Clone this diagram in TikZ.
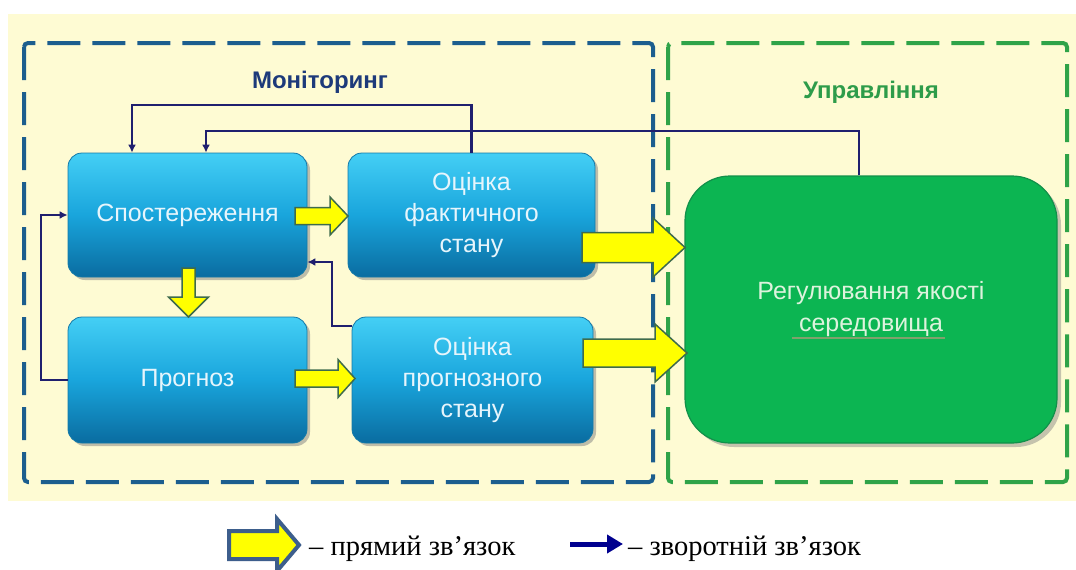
\documentclass[tikz,border=0pt]{standalone}
\usepackage{fontspec}
\setmainfont{Liberation Serif}
\newfontfamily\arialf{Liberation Sans}
\usetikzlibrary{arrows.meta,shadows,calc}
\definecolor{bgyellow}{HTML}{FEFBD3}
\definecolor{monblue}{HTML}{1C5E8E}
\definecolor{mangreen}{HTML}{2FA348}
\definecolor{montext}{HTML}{1D3A7A}
\definecolor{mantext}{HTML}{2E9C4A}
\definecolor{boxtop}{HTML}{44CFF5}
\definecolor{boxmid}{HTML}{19A5DC}
\definecolor{boxbot}{HTML}{0A6CA0}
\definecolor{boxedge}{HTML}{1479A8}
\definecolor{boxtxt}{HTML}{E6F5FC}
\definecolor{regfill}{HTML}{0CB552}
\definecolor{regedge}{HTML}{12904A}
\definecolor{regtxt}{HTML}{DDF3DD}
\definecolor{fbline}{HTML}{1F1F6E}
\definecolor{yarr}{HTML}{FFFF00}
\definecolor{yedge}{HTML}{3E6B4C}
\definecolor{legedge}{HTML}{3D5E8C}
\definecolor{legnavy}{HTML}{00008F}
\definecolor{squig}{HTML}{B09A78}
\tikzset{
  bluebox/.style={rounded corners=14, inner sep=0, draw=boxedge, line width=0.8,
    top color=boxtop, bottom color=boxbot, middle color=boxmid,
    drop shadow={shadow xshift=3pt, shadow yshift=-3pt, opacity=0.5},
    text=boxtxt, align=center, font=\arialf\fontsize{25}{31}\selectfont},
  greenbox/.style={rounded corners=45, inner sep=0, draw=regedge, line width=1.2,
    fill=regfill, drop shadow={shadow xshift=4pt, shadow yshift=-4pt, opacity=0.45},
    text=regtxt, align=center, font=\arialf\fontsize{25}{32}\selectfont},
  dashbox/.style={line width=4, dash pattern=on 33 off 12, rounded corners=4},
  yarrow/.style={fill=yarr, draw=yedge, line width=1.5, line join=miter},
  legarrow/.style={fill=yarr, draw=legedge, line width=4, line join=miter},
  fb/.style={draw=fbline, line width=2.6, -{Latex[length=8,width=8]}},
  legtext/.style={inner sep=0, anchor=base west, font=\fontsize{28.5}{30}\selectfont},
}
% horizontal block arrow: style, tail x, head-base x, tip x, y, shaft half, head half
\newcommand\hblockarrow[7]{%
  \draw[#1] (#2,#5-#6) -- (#3,#5-#6) -- (#3,#5-#7) -- (#4,#5) -- (#3,#5+#7)
    -- (#3,#5+#6) -- (#2,#5+#6) -- cycle;}
% vertical block arrow: style, x, tail y, head-base y, tip y, shaft half, head half
\newcommand\vblockarrow[7]{%
  \draw[#1] (#2-#6,#3) -- (#2-#6,#4) -- (#2-#7,#4) -- (#2,#5) -- (#2+#7,#4)
    -- (#2+#6,#4) -- (#2+#6,#3) -- cycle;}
\begin{document}
\begin{tikzpicture}[x=1pt,y=-1pt]
\useasboundingbox (0,0) rectangle (1076,570);
\fill[white] (0,0) rectangle (1076,570);
\fill[bgyellow] (8,14) rectangle (1076,501);

% dashed frames
\draw[dashbox, monblue] (24,43) rectangle (653,482);
\draw[dashbox, mangreen] (668,43) rectangle (1067,482);

% titles
\node[font=\arialf\bfseries\fontsize{24}{28}\selectfont, text=montext] (mon) at (320,82) {Моніторинг};
\node[font=\arialf\bfseries\fontsize{24}{28}\selectfont, text=mantext] (man) at (871,92) {Управління};

% helper coordinates for feedback routes
\coordinate (f1) at (132,105);
\coordinate (f2) at (206,131);
\coordinate (r2) at (859,131);
\coordinate (f3) at (41,0);
\coordinate (f4) at (332,326);
\coordinate (f5) at (332,262);

% boxes
\node[bluebox, minimum width=239, minimum height=124] (obs) at (187.5,215) {Спостереження};
\node[bluebox, minimum width=247, minimum height=124] (fact) at (471.5,215) {Оцінка\\фактичного\\стану};
\node[bluebox, minimum width=239, minimum height=126] (prog) at (187.5,380) {Прогноз};
\node[bluebox, minimum width=241, minimum height=126] (pst) at (472.5,380) {Оцінка\\прогнозного\\стану};
\node[greenbox, minimum width=372, minimum height=267] (reg) at (871,309.5) {Регулювання якості\\середовища};
\draw[squig, line width=1.2, opacity=0.7] (792,338) -- (945,338);

% feedback connectors
\draw[fb] (fact.north) |- (f1) -- (f1 |- obs.north);
\draw[fb] (r2 |- reg.north) -- (r2) -- (f2) -- (f2 |- obs.north);
\draw[fb] (prog.west) -- (prog.west -| f3) |- (obs.west);
\draw[fb] (f4 -| pst.west) -- (f4) -- (f5) -- (f5 -| obs.east);

% forward (yellow block) arrows
\hblockarrow{yarrow}{295}{330}{348}{216}{8.5}{19}
\hblockarrow{yarrow}{295}{338}{355}{378.5}{8.5}{19}
\vblockarrow{yarrow}{188.5}{268}{297}{317}{6.5}{20}
\hblockarrow{yarrow}{582}{653}{685}{247.5}{15}{29.5}
\hblockarrow{yarrow}{583}{655}{687}{353}{14}{29}

% legend
\hblockarrow{legarrow}{229}{277}{299}{545}{14}{26}
\node[legtext] (lt1) at (309,555) {– прямий зв’язок};
\coordinate (la1) at (570,544);
\coordinate (la2) at (623,544);
\draw[legnavy, line width=5, -{Triangle[length=16,width=18]}] (la1) -- (la2);
\node[legtext] (lt2) at (628,555) {– зворотній зв’язок};
\end{tikzpicture}
\end{document}
